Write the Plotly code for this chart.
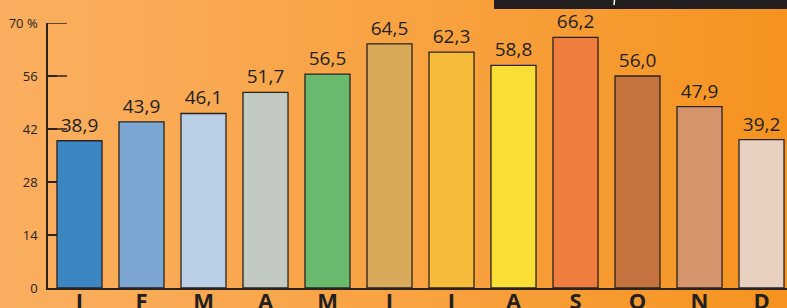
import plotly.graph_objects as go
import base64

months = ["I", "F", "M", "A", "M", "I", "I", "A", "S", "O", "N", "D"]
values = [38.9, 43.9, 46.1, 51.7, 56.5, 64.5, 62.3, 58.8, 66.2, 56.0, 47.9, 39.2]
bar_colors = ["#3A87C4", "#7BA6D1", "#BACFE6", "#C2C9C3", "#69BA6D", "#D9A95A",
              "#F6BB39", "#F8DE35", "#EF7E3E", "#C5733E", "#D6946C", "#E8D0C0"]
ytick_vals = [0, 14, 28, 42, 56, 70]
ytick_text = ["0", "14", "28", "42", "56", "70 %"]
long_ticks = [42, 56, 70]

labels = [f"{v:.1f}".replace(".", ",") for v in values]
xpos = list(range(len(months)))

svg = ('<svg xmlns="http://www.w3.org/2000/svg" width="787" height="308">'
       '<defs><linearGradient id="g" x1="0" y1="0" x2="1" y2="0">'
       '<stop offset="0" stop-color="#FAAF60"/>'
       '<stop offset="0.5" stop-color="#F8A343"/>'
       '<stop offset="1" stop-color="#F6931F"/>'
       '</linearGradient></defs>'
       '<rect width="787" height="308" fill="url(#g)"/></svg>')
bg = "data:image/svg+xml;base64," + base64.b64encode(svg.encode()).decode()

fig = go.Figure()
fig.add_trace(go.Bar(
    x=xpos, y=values, width=0.726,
    marker=dict(color=bar_colors, line=dict(color="#2a2320", width=1.3)),
    text=labels, textposition="outside", cliponaxis=False,
    textfont=dict(family="Open Sans", size=19, color="#231F20"),
    hoverinfo="skip",
))

shapes = []
for t in long_ticks:
    shapes.append(dict(type="line", xref="paper", yref="y", x0=0, x1=19 / 739,
                       y0=t, y1=t, line=dict(color="#2a2320", width=1.5)))
# black banner at top right (cropped title strip)
shapes.append(dict(type="rect", xref="paper", yref="paper",
                   x0=(494 - 48) / 739, x1=1.0, y0=(288 - 0) / 265, y1=(288 - 9) / 265,
                   fillcolor="#231F20", line=dict(width=0), layer="above"))
shapes.append(dict(type="line", xref="paper", yref="paper",
                   x0=(614.5 - 48) / 739, x1=(614 - 48) / 739, y0=(288 - 0) / 265, y1=(288 - 5) / 265,
                   line=dict(color="#ffffff", width=1.5), layer="above"))

fig.update_layout(
    width=787, height=308,
    margin=dict(l=48, r=0, t=23, b=20),
    paper_bgcolor="rgba(0,0,0,0)", plot_bgcolor="rgba(0,0,0,0)",
    showlegend=False,
    shapes=shapes,
    images=[dict(source=bg, xref="paper", yref="paper", x=-48 / 739, y=(288) / 265,
                 sizex=787 / 739, sizey=308 / 265, sizing="stretch",
                 xanchor="left", yanchor="top", layer="below")],
    xaxis=dict(range=[-0.508, 11.411], tickmode="array", tickvals=xpos, ticktext=months,
               showgrid=False, zeroline=False, showline=True, linecolor="#2a2320", linewidth=1.5,
               ticks="", tickfont=dict(family="Open Sans", size=22, color="#231F20", weight="bold"),
               ticklabelstandoff=-7, automargin=False, fixedrange=True),
    yaxis=dict(range=[0, 70], tickmode="array", tickvals=ytick_vals, ticktext=ytick_text,
               showgrid=False, zeroline=False, showline=True, linecolor="#2a2320", linewidth=1.5,
               ticks="inside", ticklen=9, tickwidth=1.5, tickcolor="#2a2320",
               tickfont=dict(family="Open Sans", size=13, color="#231F20"),
               ticklabelstandoff=6, automargin=False, fixedrange=True),
)

fig.write_html("out.html", config={"displayModeBar": False},
               post_script="document.body.style.margin='0';document.body.style.overflow='hidden';")
